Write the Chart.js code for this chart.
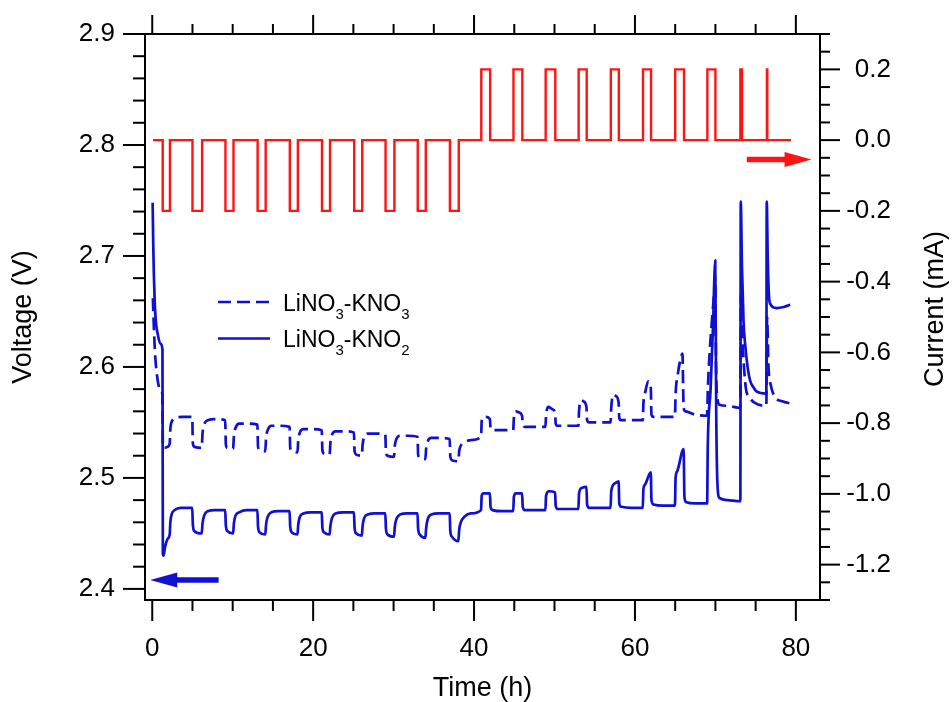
<!DOCTYPE html>
<html>
<head>
<meta charset="utf-8">
<title>Voltage and current vs time</title>
<script src="https://cdn.jsdelivr.net/npm/chart.js@4.4.1/dist/chart.umd.min.js"></script>
<style>
  html, body { margin: 0; padding: 0; background: #ffffff; }
  canvas { display: block; }
</style>
</head>
<body>
<canvas id="chart" width="952" height="702"></canvas>
<script>
// ---- data -------------------------------------------------------------
const seriesNames = ['LiNO3-KNO3', 'LiNO3-KNO2'];

// cell voltage of the LiNO3-KNO3 melt, [time (h), voltage (V)]
const voltageKNO3 = [
  [0.08, 2.662], [0.2, 2.636], [0.35, 2.612], [0.55, 2.595], [0.8, 2.583], [1.05, 2.578], [1.27, 2.575],
  [1.32, 2.530], [1.5, 2.527], [1.9, 2.528], [2.17, 2.531], [2.25, 2.544], [2.45, 2.551], [2.9, 2.554], [3.8, 2.555], [4.97, 2.555],
  [5.05, 2.531], [5.25, 2.528], [6.15, 2.527], [6.25, 2.540], [6.45, 2.548], [6.9, 2.552], [7.8, 2.553], [9.07, 2.552],
  [9.15, 2.530], [9.35, 2.527], [10.05, 2.526], [10.15, 2.538], [10.35, 2.545], [10.8, 2.549], [11.7, 2.549], [13.07, 2.548],
  [13.15, 2.528], [13.35, 2.525], [14.05, 2.524], [14.15, 2.536], [14.35, 2.543], [14.8, 2.547], [15.7, 2.547], [17.07, 2.546],
  [17.15, 2.527], [17.35, 2.524], [18.05, 2.523], [18.15, 2.534], [18.35, 2.541], [18.8, 2.544], [19.7, 2.544], [21.07, 2.543],
  [21.15, 2.525], [21.35, 2.522], [22.05, 2.521], [22.15, 2.532], [22.35, 2.539], [22.8, 2.542], [23.7, 2.542], [25.07, 2.541],
  [25.15, 2.524], [25.35, 2.521], [26.05, 2.520], [26.15, 2.530], [26.35, 2.537], [26.8, 2.540], [27.7, 2.540], [28.97, 2.539],
  [29.05, 2.523], [29.25, 2.520], [30.05, 2.519], [30.15, 2.529], [30.35, 2.535], [30.8, 2.538], [31.7, 2.538], [32.97, 2.537],
  [33.05, 2.521], [33.25, 2.518], [33.95, 2.517], [34.05, 2.527], [34.25, 2.533], [34.7, 2.536], [35.6, 2.536], [36.97, 2.535],
  [37.05, 2.519], [37.25, 2.516], [38.05, 2.515], [38.15, 2.524], [38.35, 2.529], [38.8, 2.532], [39.6, 2.534], [40.87, 2.537],
  [40.95, 2.551], [41.15, 2.555], [41.5, 2.555], [41.97, 2.553], [42.05, 2.545], [42.3, 2.543], [43.5, 2.543], [44.87, 2.543],
  [44.95, 2.554], [45.2, 2.560], [45.6, 2.559], [45.97, 2.556], [46.05, 2.548], [46.3, 2.546], [47.5, 2.546], [48.87, 2.546],
  [48.95, 2.556], [49.25, 2.564], [49.7, 2.562], [50.07, 2.559], [50.15, 2.549], [50.4, 2.547], [51.5, 2.547], [52.97, 2.547],
  [53.05, 2.560], [53.3, 2.570], [53.6, 2.569], [53.97, 2.564], [54.05, 2.552], [54.3, 2.550], [55.5, 2.550], [56.97, 2.550],
  [57.05, 2.563], [57.3, 2.575], [57.6, 2.574], [57.97, 2.568], [58.05, 2.554], [58.3, 2.552], [59.5, 2.552], [60.97, 2.552],
  [61.05, 2.567], [61.3, 2.578], [61.65, 2.587], [61.97, 2.581], [62.05, 2.557], [62.3, 2.555], [63.5, 2.555], [64.97, 2.555],
  [65.05, 2.575], [65.3, 2.592], [65.6, 2.605], [65.9, 2.612], [66.05, 2.563], [66.3, 2.560], [67.5, 2.557], [68.97, 2.556],
  [69.05, 2.578], [69.3, 2.615], [69.55, 2.640], [69.8, 2.663], [69.97, 2.680], [70.08, 2.600], [70.25, 2.572], [70.5, 2.566], [71.5, 2.565], [73.1, 2.563],
  [73.17, 2.665], [73.4, 2.620], [73.6, 2.595], [73.8, 2.580], [74.3, 2.572], [74.8, 2.568], [76.33, 2.565],
  [76.42, 2.645], [76.6, 2.600], [76.9, 2.583], [77.4, 2.573], [78.3, 2.569], [79.5, 2.567]
];

// cell voltage of the LiNO3-KNO2 melt, [time (h), voltage (V)]
const voltageKNO2 = [
  [0.05, 2.748], [0.12, 2.712], [0.2, 2.684], [0.3, 2.660], [0.45, 2.641], [0.7, 2.629], [1.0, 2.621], [1.27, 2.616],
  [1.32, 2.432], [1.4, 2.430], [1.6, 2.438], [1.9, 2.445], [2.17, 2.449], [2.25, 2.460], [2.4, 2.467], [2.8, 2.471], [3.5, 2.473], [4.97, 2.473],
  [5.05, 2.458], [5.25, 2.452], [6.15, 2.450], [6.25, 2.459], [6.45, 2.466], [6.9, 2.470], [7.8, 2.471], [9.07, 2.471],
  [9.15, 2.457], [9.35, 2.452], [10.05, 2.450], [10.15, 2.459], [10.35, 2.466], [10.8, 2.469], [11.7, 2.471], [13.07, 2.471],
  [13.15, 2.456], [13.35, 2.451], [14.05, 2.449], [14.15, 2.458], [14.35, 2.465], [14.8, 2.469], [15.7, 2.470], [17.07, 2.470],
  [17.15, 2.456], [17.35, 2.451], [18.05, 2.449], [18.15, 2.458], [18.35, 2.465], [18.8, 2.468], [19.7, 2.469], [21.07, 2.469],
  [21.15, 2.455], [21.35, 2.451], [22.05, 2.449], [22.15, 2.457], [22.35, 2.464], [22.8, 2.468], [23.7, 2.469], [25.07, 2.469],
  [25.15, 2.455], [25.35, 2.450], [26.05, 2.448], [26.15, 2.457], [26.35, 2.464], [26.8, 2.467], [27.7, 2.468], [28.97, 2.468],
  [29.05, 2.454], [29.25, 2.449], [30.05, 2.447], [30.15, 2.456], [30.35, 2.463], [30.8, 2.467], [31.7, 2.468], [32.97, 2.468],
  [33.05, 2.454], [33.25, 2.449], [33.95, 2.446], [34.05, 2.455], [34.25, 2.463], [34.7, 2.467], [35.6, 2.468], [36.97, 2.468],
  [37.05, 2.452], [37.25, 2.447], [38.05, 2.443], [38.15, 2.453], [38.35, 2.460], [38.8, 2.465], [39.6, 2.468], [40.87, 2.471],
  [40.95, 2.484], [41.2, 2.486], [41.97, 2.486], [42.05, 2.474], [42.3, 2.471], [43.5, 2.470], [44.87, 2.470],
  [44.95, 2.483], [45.2, 2.486], [45.97, 2.486], [46.05, 2.474], [46.3, 2.471], [47.5, 2.471], [48.87, 2.471],
  [48.95, 2.484], [49.3, 2.488], [50.07, 2.487], [50.15, 2.475], [50.4, 2.472], [51.5, 2.472], [52.97, 2.472],
  [53.05, 2.486], [53.4, 2.491], [53.97, 2.492], [54.05, 2.476], [54.3, 2.473], [55.5, 2.473], [56.97, 2.473],
  [57.05, 2.488], [57.5, 2.495], [57.97, 2.497], [58.05, 2.477], [58.3, 2.474], [59.5, 2.473], [60.97, 2.473],
  [61.05, 2.490], [61.25, 2.494], [61.97, 2.505], [62.05, 2.480], [62.3, 2.476], [63.5, 2.475], [64.97, 2.475],
  [65.05, 2.500], [65.25, 2.506], [66.05, 2.526], [66.15, 2.483], [66.4, 2.478], [67.5, 2.477], [68.97, 2.477],
  [69.05, 2.528], [69.4, 2.580], [69.7, 2.636], [69.98, 2.696], [70.1, 2.560], [70.25, 2.495], [70.5, 2.482], [71.5, 2.480], [73.1, 2.479],
  [73.15, 2.749], [73.3, 2.690], [73.5, 2.640], [73.7, 2.620], [74.0, 2.600], [74.3, 2.588], [74.7, 2.582], [75.1, 2.578], [76.33, 2.576],
  [76.38, 2.749], [76.5, 2.700], [76.65, 2.665], [76.8, 2.657], [77.6, 2.653], [78.5, 2.654], [79.3, 2.656]
];

// applied current: times (h) where the level changes, and the level (mA) held from that time on
const currentTime = [
  0.1, 1.3, 2.2, 5.0, 6.2, 9.1, 10.1, 13.1, 14.1, 17.1, 18.1, 21.1, 22.1, 25.1, 26.1,
  29.0, 30.1, 33.0, 34.0, 37.0, 38.1,
  40.9, 42.0, 44.9, 46.0, 48.9, 50.1, 53.0, 54.0, 57.0, 58.0, 61.0, 62.0, 65.0, 66.1,
  69.0, 70.0, 73.1, 73.3, 76.4, 76.45, 79.4
];
const currentLevel = [
  0, -0.2, 0, -0.2, 0, -0.2, 0, -0.2, 0, -0.2, 0, -0.2, 0, -0.2, 0,
  -0.2, 0, -0.2, 0, -0.2, 0,
  0.2, 0, 0.2, 0, 0.2, 0, 0.2, 0, 0.2, 0, 0.2, 0, 0.2, 0,
  0.2, 0, 0.2, 0, 0.2, 0, 0
];

// axis ranges and tick labels
const timeRange = [-0.9, 83];
const voltageRange = [2.39, 2.9];
const currentRange = [-1.3, 0.3];
const timeTicks = [0, 20, 40, 60, 80];
const voltageTicks = [2.4, 2.5, 2.6, 2.7, 2.8, 2.9];
const currentTicks = [-1.2, -1.0, -0.8, -0.6, -0.4, -0.2, 0.0, 0.2];

// ---- styling ---------------------------------------------------------
const FONT = "'Liberation Sans', Arial, Helvetica, sans-serif";
const BLUE = '#1010cf';
const RED = '#ff1414';
const INK = '#000000';

// arrows telling which axis each trace belongs to (data coordinates)
const axisArrows = [
  { scale: 'y',  fromX: 8.25, toX: -0.25, level: 2.408, color: BLUE },
  { scale: 'y1', fromX: 73.9, toX: 81.95, level: -0.055, color: RED }
];

const toXY = pts => pts.map(p => ({ x: p[0], y: p[1] }));
const currentPoints = currentTime.map((t, i) => ({ x: t, y: currentLevel[i] }));

// ---- plugins ---------------------------------------------------------
// box frame with outward major/minor ticks on all four sides, plus axis titles
const framePlugin = {
  id: 'frame',
  afterDraw(chart) {
    const { ctx, chartArea: a, scales } = chart;
    ctx.save();
    ctx.strokeStyle = INK;
    ctx.lineWidth = 2;
    ctx.lineCap = 'butt';
    ctx.strokeRect(a.left, a.top, a.right - a.left, a.bottom - a.top);
    const seg = (x1, y1, x2, y2) => { ctx.beginPath(); ctx.moveTo(x1, y1); ctx.lineTo(x2, y2); ctx.stroke(); };

    // time: minor every 5 h, major every 20 h
    for (let i = 0; i <= 16; i++) {
      const px = scales.x.getPixelForValue(i * 5);
      const major = i % 4 === 0;
      seg(px, a.bottom, px, a.bottom + (major ? 21 : 11));
      seg(px, a.top, px, a.top - (major ? 19 : 10));
    }
    // voltage: minor every 0.02 V, major every 0.1 V
    for (let i = 120; i <= 145; i++) {
      const py = scales.y.getPixelForValue(i / 50);
      seg(a.left, py, a.left - (i % 5 === 0 ? 22 : 12), py);
    }
    // current: minor every 0.05 mA, major every 0.2 mA
    for (let i = -26; i <= 6; i++) {
      const py = scales.y1.getPixelForValue(i / 20);
      seg(a.right, py, a.right + (i % 4 === 0 ? 20 : 10), py);
    }

    ctx.fillStyle = INK;
    ctx.font = `27px ${FONT}`;
    ctx.textAlign = 'center';
    ctx.textBaseline = 'alphabetic';
    ctx.fillText('Time (h)', (a.left + a.right) / 2, 696);

    ctx.save();
    ctx.translate(31, (a.top + a.bottom) / 2);
    ctx.rotate(-Math.PI / 2);
    ctx.fillText('Voltage (V)', 0, 0);
    ctx.restore();

    ctx.save();
    ctx.translate(943, 309);
    ctx.rotate(-Math.PI / 2);
    ctx.fillText('Current (mA)', 0, 0);
    ctx.restore();

    ctx.restore();
  }
};

// arrows drawn through the scales
const arrowPlugin = {
  id: 'axisArrows',
  afterDatasetsDraw(chart) {
    const { ctx, scales } = chart;
    ctx.save();
    axisArrows.forEach(ar => {
      const y = scales[ar.scale].getPixelForValue(ar.level);
      const x0 = scales.x.getPixelForValue(ar.fromX);
      const x1 = scales.x.getPixelForValue(ar.toX);
      const dir = Math.sign(x1 - x0);
      const headLen = 27, headHalf = 7.5;
      ctx.strokeStyle = ar.color;
      ctx.fillStyle = ar.color;
      ctx.lineWidth = 5.5;
      ctx.beginPath();
      ctx.moveTo(x0, y);
      ctx.lineTo(x1 - dir * (headLen - 2), y);
      ctx.stroke();
      ctx.beginPath();
      ctx.moveTo(x1, y);
      ctx.lineTo(x1 - dir * headLen, y - headHalf);
      ctx.lineTo(x1 - dir * headLen, y + headHalf);
      ctx.closePath();
      ctx.fill();
    });
    ctx.restore();
  }
};

// legend with chemical formula subscripts
function drawFormula(ctx, text, x, y) {
  const parts = text.split(/(\d+)/);
  let cx = x;
  parts.forEach((p, i) => {
    if (!p) return;
    const sub = i % 2 === 1;
    ctx.font = sub ? `15px ${FONT}` : `23px ${FONT}`;
    ctx.fillText(p, cx, sub ? y + 8 : y);
    cx += ctx.measureText(p).width;
  });
}

const legendPlugin = {
  id: 'formulaLegend',
  afterDatasetsDraw(chart) {
    const { ctx, chartArea: a } = chart;
    const x0 = a.left + 73, x1 = a.left + 125, tx = a.left + 138;
    const rows = [
      { ds: chart.data.datasets[0], y: a.top + 268 },
      { ds: chart.data.datasets[1], y: a.top + 304.5 }
    ];
    ctx.save();
    rows.forEach(r => {
      ctx.strokeStyle = r.ds.borderColor;
      ctx.lineWidth = r.ds.borderWidth;
      ctx.setLineDash(r.ds.borderDash || []);
      ctx.beginPath();
      ctx.moveTo(x0, r.y);
      ctx.lineTo(x1, r.y);
      ctx.stroke();
      ctx.setLineDash([]);
      ctx.fillStyle = INK;
      ctx.textAlign = 'left';
      ctx.textBaseline = 'alphabetic';
      drawFormula(ctx, r.ds.label, tx, r.y + 8.5);
    });
    ctx.restore();
  }
};

// ---- chart -----------------------------------------------------------
const tickFont = { family: FONT, size: 26 };
const fmt1 = v => Number(v).toFixed(1);
// fixed box sizes; tick labels may overhang the plot corners without shrinking it
const fixBox = (w, h) => s => {
  if (w !== null) s.width = w;
  if (h !== null) s.height = h;
  s.paddingTop = 0; s.paddingBottom = 0; s.paddingLeft = 0; s.paddingRight = 0;
};

new Chart(document.getElementById('chart'), {
  type: 'line',
  data: {
    datasets: [
      {
        label: seriesNames[0],
        data: toXY(voltageKNO3),
        yAxisID: 'y',
        borderColor: BLUE,
        borderWidth: 2.7,
        borderDash: [13, 6],
        borderJoinStyle: 'round',
        cubicInterpolationMode: 'monotone',
        pointRadius: 0,
        fill: false
      },
      {
        label: seriesNames[1],
        data: toXY(voltageKNO2),
        yAxisID: 'y',
        borderColor: BLUE,
        borderWidth: 2.7,
        borderJoinStyle: 'round',
        cubicInterpolationMode: 'monotone',
        pointRadius: 0,
        fill: false
      },
      {
        label: 'Current',
        data: currentPoints,
        yAxisID: 'y1',
        borderColor: RED,
        borderWidth: 2.4,
        stepped: 'before',
        pointRadius: 0,
        fill: false
      }
    ]
  },
  options: {
    responsive: false,
    animation: false,
    devicePixelRatio: 1,
    parsing: false,
    normalized: true,
    layout: { padding: { top: 34, left: 0, right: 61, bottom: 0 } },
    plugins: {
      legend: { display: false },
      tooltip: { enabled: false },
      title: { display: false }
    },
    scales: {
      x: {
        type: 'linear', position: 'bottom',
        min: timeRange[0], max: timeRange[1],
        grid: { display: false, drawTicks: false },
        border: { display: false },
        afterBuildTicks: s => { s.ticks = timeTicks.map(v => ({ value: v })); },
        ticks: { padding: 33, color: INK, font: tickFont, maxRotation: 0, autoSkip: false, callback: v => String(v) },
        afterFit: fixBox(null, 102)
      },
      y: {
        type: 'linear', position: 'left',
        min: voltageRange[0], max: voltageRange[1],
        grid: { display: false, drawTicks: false },
        border: { display: false },
        afterBuildTicks: s => { s.ticks = voltageTicks.map(v => ({ value: v })); },
        ticks: { padding: 30, color: INK, font: tickFont, autoSkip: false, callback: fmt1 },
        afterFit: fixBox(145, null)
      },
      y1: {
        type: 'linear', position: 'right',
        min: currentRange[0], max: currentRange[1],
        grid: { display: false, drawTicks: false },
        border: { display: false },
        afterBuildTicks: s => { s.ticks = currentTicks.map(v => ({ value: v })); },
        ticks: { padding: 24, crossAlign: 'far', color: INK, font: tickFont, autoSkip: false, callback: fmt1 },
        afterFit: fixBox(71, null)
      }
    }
  },
  plugins: [arrowPlugin, legendPlugin, framePlugin]
});
</script>
</body>
</html>
